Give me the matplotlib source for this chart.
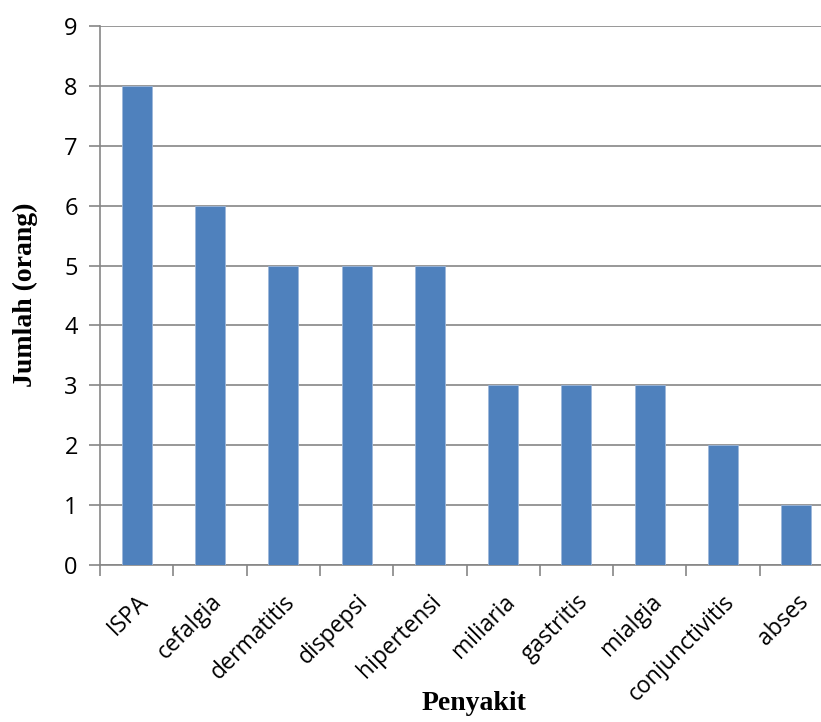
import matplotlib.pyplot as plt
import numpy as np

penyakit = ['ISPA', 'cefalgia', 'dermatitis', 'dispepsi', 'hipertensi',
            'miliaria', 'gastritis', 'mialgia', 'conjunctivitis', 'abses']
jumlah = [8, 6, 5, 5, 5, 3, 3, 3, 2, 1]
yticks = list(range(0, 10))

W, H = 821, 722
fig = plt.figure(figsize=(W / 100, H / 100), dpi=100)
# axes run slightly past the right edge of the figure
left, right, top, bottom = 100, 833, 26, 565
ax = fig.add_axes([left / W, 1 - bottom / H, (right - left) / W, (bottom - top) / H])

x = np.arange(len(penyakit))
ax.bar(x, jumlah, width=0.41, color='#4F81BD', edgecolor='#9DB7DA', linewidth=0.6, zorder=3)

ax.set_xlim(-0.5, len(penyakit) - 0.5)
ax.set_ylim(0, 9)
ax.set_yticks(yticks)
ax.yaxis.grid(True, color='#868686', linewidth=1.2, zorder=0)

ax.set_xticks(np.arange(len(penyakit) + 1) - 0.5)
ax.set_xticklabels([])
ax.set_xticks(x, minor=True)
ax.set_xticklabels(penyakit, minor=True, rotation=45, ha='right', va='top',
                   rotation_mode='anchor', fontsize=16.5, family='Open Sans')
ax.tick_params(axis='x', which='minor', length=0, pad=18)
ax.tick_params(axis='x', which='major', length=8, width=1.2, color='#868686')
ax.tick_params(axis='y', length=8, width=1.2, color='#868686', labelsize=17, pad=8)
for lab in ax.get_yticklabels():
    lab.set_family('Open Sans')

for s in ['top', 'right']:
    ax.spines[s].set_visible(False)
for s in ['left', 'bottom']:
    ax.spines[s].set_color('#868686')
    ax.spines[s].set_linewidth(1.2)

fig.text(25 / W, 1 - 295 / H, 'Jumlah (orang)', rotation=90, ha='center', va='center',
         fontsize=20, fontweight='bold', family='Liberation Serif')
fig.text(474 / W, 1 - 703 / H, 'Penyakit', ha='center', va='center',
         fontsize=20, fontweight='bold', family='Liberation Serif')

fig.savefig('out.png', dpi=100)
